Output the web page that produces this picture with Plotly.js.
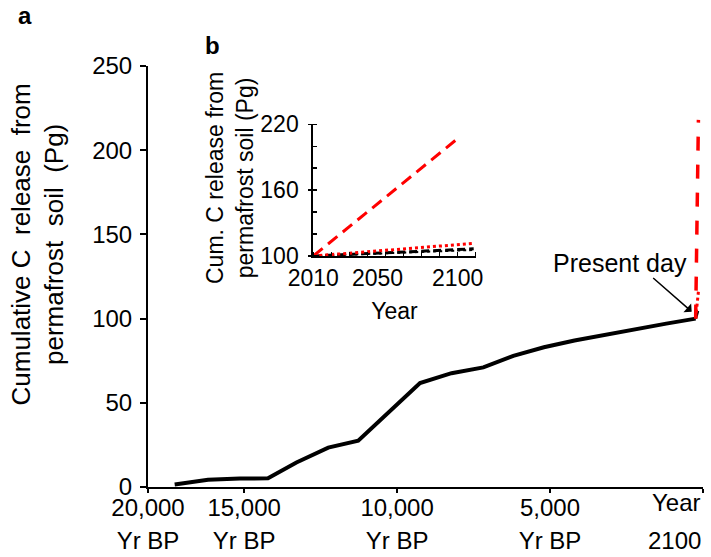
<!DOCTYPE html>
<html><head><meta charset="utf-8">
<script src="https://cdn.plot.ly/plotly-3.0.1.min.js"></script>
<style>html,body{margin:0;padding:0;background:#fff}</style>
</head><body><div id="chart" style="width:711px;height:557px"></div>
<script>
// ---------- Panel a (main): years before the "Year 2100" tick ----------
const pastYearsBP = [17270,16180,15140,14220,13290,12250,11270,10290,9250,8220,7180,6200,5200,4200,3200,2200,1200,240];
const pastRelease = [1.5,4.3,5.0,5.2,14.6,23.4,27.5,43.9,61.7,67.6,71.0,77.9,83.0,87.0,90.5,94.0,97.0,100];
const futureYearsBP = [240,150];
const futureHigh = [100,218];
const futureMid = [100,116];
const futureLow = [100,106];
const mainXTickVals = [18142,15000,10000,5000,0];
const mainXTickRow1 = ['20,000','15,000','10,000','5,000',''];
const mainXTickRow2 = ['Yr BP','Yr BP','Yr BP','Yr BP',''];
const mainYTicks = [0,50,100,150,200,250];

// ---------- Panel b (inset): 2010-2100 ----------
const insetYearsHigh = [2010,2100];
const insetHigh = [100,207];
const insetYearsRest = [2010,2110];
const insetMid = [100,111.5];
const insetLowA = [100,106.5];
const insetLowB = [100,105.5];
const insetXTicks = [2010,2050,2100];
const insetYTicks = [100,160,220];

const FONT = 'Liberation Sans, Arial, sans-serif';
const L = 148, T = 66, W = 555, H = 421;
const px = x => (x - L) / W;
const py = y => (T + H - y) / H;

const traces = [
  {x: pastYearsBP, y: pastRelease, mode: 'lines', line: {color: '#000', width: 4}, xaxis: 'x', yaxis: 'y', hoverinfo: 'skip'},
  {x: futureYearsBP, y: futureLow, mode: 'lines', line: {color: '#000', width: 3, dash: '8px,4px'}, xaxis: 'x', yaxis: 'y', hoverinfo: 'skip'},
  {x: futureYearsBP, y: futureMid, mode: 'lines', line: {color: '#ff0000', width: 3, dash: 'dot'}, xaxis: 'x', yaxis: 'y', hoverinfo: 'skip'},
  {x: futureYearsBP, y: futureHigh, mode: 'lines', line: {color: '#ff0000', width: 3.5, dash: '14px,14px'}, xaxis: 'x', yaxis: 'y', hoverinfo: 'skip'},
  {x: [], y: [], mode: 'lines', xaxis: 'x3', yaxis: 'y', hoverinfo: 'skip'},
  {x: insetYearsRest, y: insetLowB, mode: 'lines', line: {color: '#000', width: 2, dash: 'dot'}, xaxis: 'x2', yaxis: 'y2', hoverinfo: 'skip'},
  {x: insetYearsRest, y: insetLowA, mode: 'lines', line: {color: '#000', width: 3, dash: '8px,4px'}, xaxis: 'x2', yaxis: 'y2', hoverinfo: 'skip'},
  {x: insetYearsRest, y: insetMid, mode: 'lines', line: {color: '#ff0000', width: 3, dash: 'dot'}, xaxis: 'x2', yaxis: 'y2', hoverinfo: 'skip'},
  {x: insetYearsHigh, y: insetHigh, mode: 'lines', line: {color: '#ff0000', width: 3, dash: '12px,7px'}, xaxis: 'x2', yaxis: 'y2', hoverinfo: 'skip'}
];

const tickFont = {family: FONT, size: 24, color: '#000'};
const insetFont = {family: FONT, size: 23, color: '#000'};

const layout = {
  width: 711, height: 557,
  margin: {l: L, r: 711 - L - W, t: T, b: 557 - T - H},
  paper_bgcolor: '#fff', plot_bgcolor: '#fff',
  showlegend: false,
  font: {family: FONT, color: '#000'},
  xaxis: {
    domain: [0, 1], anchor: 'y', range: [18142, 0],
    tickmode: 'array', tickvals: mainXTickVals, ticktext: mainXTickRow1,
    ticks: 'outside', ticklen: 4, tickwidth: 2, tickcolor: '#000',
    showline: true, linewidth: 2, linecolor: '#000',
    showgrid: false, zeroline: false, tickfont: tickFont, ticklabelstandoff: -6
  },
  xaxis3: {
    overlaying: 'x', anchor: 'y', side: 'bottom', range: [18142, 0],
    tickmode: 'array', tickvals: mainXTickVals, ticktext: mainXTickRow2,
    ticks: '', showline: false, showgrid: false, zeroline: false,
    ticklabelstandoff: 37, tickfont: tickFont
  },
  yaxis: {
    domain: [0, 1], anchor: 'x', range: [0, 250],
    tickmode: 'array', tickvals: mainYTicks,
    ticks: 'outside', ticklen: 6, tickwidth: 2, tickcolor: '#000',
    showline: true, linewidth: 2, linecolor: '#000',
    showgrid: false, zeroline: false, tickfont: tickFont, ticklabelstandoff: 3
  },
  xaxis2: {
    domain: [px(313.3), px(475.7)], anchor: 'y2', range: [2010, 2111.25],
    tickmode: 'array', tickvals: insetXTicks, ticks: '',
    minor: {ticks: 'inside', tick0: 2010, dtick: 11.25, ticklen: 4, tickwidth: 1.5, tickcolor: '#000', showgrid: false},
    showline: true, linewidth: 2, linecolor: '#000',
    showgrid: false, zeroline: false, tickfont: insetFont, ticklabelstandoff: 0,
    title: {text: 'Year', font: insetFont, standoff: 13}
  },
  yaxis2: {
    domain: [py(256), py(124.3)], anchor: 'x2', range: [100, 220],
    tickmode: 'array', tickvals: insetYTicks,
    ticks: 'outside', ticklen: 3, tickwidth: 1.5, tickcolor: '#000',
    minor: {ticks: 'inside', tick0: 100, dtick: 20, ticklen: 4, tickwidth: 1.5, tickcolor: '#000', showgrid: false},
    showline: true, linewidth: 2, linecolor: '#000',
    showgrid: false, zeroline: false, tickfont: insetFont, ticklabelstandoff: 5
  },
  annotations: [
    {xref: 'paper', yref: 'paper', x: px(24.5), y: py(15), text: '<b>a</b>', showarrow: false,
     xanchor: 'center', yanchor: 'middle', font: {family: FONT, size: 24, color: '#000'}},
    {xref: 'paper', yref: 'paper', x: px(212), y: py(45), text: '<b>b</b>', showarrow: false,
     xanchor: 'center', yanchor: 'middle', font: {family: FONT, size: 24, color: '#000'}},
    {xref: 'paper', yref: 'paper', x: px(37.5), y: py(245), textangle: -90,
     text: 'Cumulative C\u00a0 release\u00a0 from<br>permafrost\u00a0 soil\u00a0 (Pg)', showarrow: false,
     xanchor: 'center', yanchor: 'middle', font: {family: FONT, size: 26, color: '#000'}},
    {xref: 'paper', yref: 'paper', x: px(230), y: py(178), textangle: -90,
     text: 'Cum. C release from<br>permafrost soil (Pg)', showarrow: false,
     xanchor: 'center', yanchor: 'middle', font: insetFont},
    {xref: 'paper', yref: 'paper', x: px(620), y: py(263), text: 'Present day', showarrow: false,
     xanchor: 'center', yanchor: 'middle', font: {family: FONT, size: 25, color: '#000'}},
    {xref: 'paper', yref: 'paper', x: px(691.7), y: py(311.7), text: '', showarrow: true,
     ax: -40, ay: -35, arrowhead: 1, arrowsize: 1.3, arrowwidth: 1.5, arrowcolor: '#000'},
    {xref: 'x', yref: 'paper', x: 0, y: py(503), text: 'Year', showarrow: false,
     xanchor: 'right', yanchor: 'middle', font: tickFont},
    {xref: 'x', yref: 'paper', x: 0, y: py(540), text: '2100', showarrow: false,
     xanchor: 'right', yanchor: 'middle', font: tickFont}
  ]
};

Plotly.newPlot('chart', traces, layout, {staticPlot: true, displayModeBar: false});
</script>
</body></html>
